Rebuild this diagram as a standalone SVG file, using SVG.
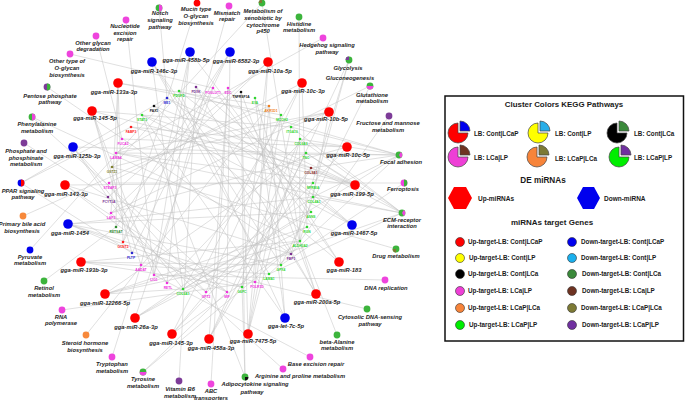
<svg xmlns="http://www.w3.org/2000/svg" width="685" height="400" viewBox="0 0 685 400">
<style>
.e line{stroke:#c0c0c0;stroke-width:0.5}
.t{font-family:"Liberation Sans",Arial,sans-serif;font-weight:bold;font-style:italic;font-size:5.8px;fill:#1e1e1e;text-anchor:middle}
.gn text{font-family:"Liberation Sans",Arial,sans-serif;font-weight:bold;font-size:3.3px;text-anchor:middle}
.lt{font-family:"Liberation Sans",Arial,sans-serif;font-weight:bold;fill:#1a1a1a}
.R{fill:#ff0000}.B{fill:#0000ee}.P{fill:#ee44dd}.G{fill:#3cb43c}.V{fill:#7d3c98}.O{fill:#f7893b}.K{fill:#111}.OL{fill:#7d7a35}
.cLG{fill:#2ed62e}.cDG{fill:#2e8b2e}.cV{fill:#7a2f90}.cP{fill:#ee33dd}.cK{fill:#111}.cO{fill:#f08020}.cBR{fill:#8b2a2a}.cB{fill:#2a2ad0}.cR{fill:#ff2020}.cOL{fill:#808030}
.pie{stroke:#444;stroke-width:0.7}
.lc{stroke:#333;stroke-width:0.6}
</style>
<rect width="685" height="400" fill="#ffffff"/>
<g id="connectors" class="e">
<line x1="152" y1="62" x2="269" y2="274"/><line x1="152" y1="62" x2="281" y2="265"/><line x1="152" y1="62" x2="183" y2="289"/><line x1="152" y1="62" x2="291" y2="254"/>
<line x1="190" y1="52" x2="167" y2="283"/><line x1="190" y1="52" x2="154" y2="275"/><line x1="190" y1="52" x2="311" y2="212"/><line x1="190" y1="52" x2="141" y2="265"/>
<line x1="230" y1="52" x2="132" y2="253"/><line x1="230" y1="52" x2="123" y2="242"/><line x1="230" y1="52" x2="116" y2="227"/><line x1="230" y1="52" x2="227" y2="292"/>
<line x1="268" y1="62" x2="111" y2="213"/><line x1="268" y1="62" x2="242" y2="287"/><line x1="268" y1="62" x2="255" y2="282"/><line x1="268" y1="62" x2="108" y2="197"/>
<line x1="302" y1="83" x2="109" y2="183"/><line x1="302" y1="83" x2="206" y2="292"/><line x1="302" y1="83" x2="183" y2="289"/><line x1="302" y1="83" x2="307" y2="227"/>
<line x1="329" y1="112" x2="112" y2="167"/><line x1="329" y1="112" x2="116" y2="153"/><line x1="329" y1="112" x2="167" y2="283"/><line x1="329" y1="112" x2="291" y2="127"/><line x1="329" y1="112" x2="313" y2="197"/>
<line x1="347" y1="147" x2="122" y2="139"/><line x1="347" y1="147" x2="111" y2="213"/><line x1="347" y1="147" x2="131" y2="127"/><line x1="347" y1="147" x2="313" y2="183"/>
<line x1="355" y1="185" x2="142" y2="115"/><line x1="355" y1="185" x2="154" y2="106"/><line x1="355" y1="185" x2="131" y2="127"/><line x1="355" y1="185" x2="116" y2="153"/><line x1="355" y1="185" x2="167" y2="98"/><line x1="355" y1="185" x2="306" y2="153"/>
<line x1="352" y1="225" x2="179" y2="91"/><line x1="352" y1="225" x2="196" y2="87"/><line x1="352" y1="225" x2="167" y2="98"/><line x1="352" y1="225" x2="142" y2="115"/>
<line x1="339" y1="262" x2="213" y2="88"/><line x1="339" y1="262" x2="228" y2="88"/><line x1="339" y1="262" x2="154" y2="106"/>
<line x1="316" y1="294" x2="241" y2="92"/><line x1="316" y1="294" x2="255" y2="98"/><line x1="316" y1="294" x2="196" y2="87"/><line x1="316" y1="294" x2="291" y2="254"/>
<line x1="285" y1="318" x2="269" y2="106"/><line x1="285" y1="318" x2="255" y2="98"/><line x1="285" y1="318" x2="179" y2="91"/><line x1="285" y1="318" x2="142" y2="115"/>
<line x1="248" y1="334" x2="281" y2="115"/><line x1="248" y1="334" x2="291" y2="127"/><line x1="248" y1="334" x2="300" y2="139"/><line x1="248" y1="334" x2="241" y2="92"/><line x1="248" y1="334" x2="269" y2="106"/>
<line x1="209" y1="339" x2="300" y2="139"/><line x1="209" y1="339" x2="306" y2="153"/><line x1="209" y1="339" x2="311" y2="168"/><line x1="209" y1="339" x2="228" y2="88"/>
<line x1="172" y1="334" x2="311" y2="168"/><line x1="172" y1="334" x2="313" y2="183"/><line x1="172" y1="334" x2="281" y2="115"/><line x1="172" y1="334" x2="300" y2="241"/>
<line x1="135" y1="318" x2="313" y2="197"/><line x1="135" y1="318" x2="311" y2="212"/><line x1="135" y1="318" x2="307" y2="227"/><line x1="135" y1="318" x2="213" y2="88"/>
<line x1="105" y1="294" x2="307" y2="227"/><line x1="105" y1="294" x2="300" y2="241"/><line x1="105" y1="294" x2="291" y2="254"/><line x1="105" y1="294" x2="306" y2="153"/><line x1="105" y1="294" x2="183" y2="289"/>
<line x1="81" y1="262" x2="300" y2="241"/><line x1="81" y1="262" x2="281" y2="265"/><line x1="81" y1="262" x2="269" y2="274"/><line x1="81" y1="262" x2="242" y2="287"/>
<line x1="68" y1="224" x2="255" y2="282"/><line x1="68" y1="224" x2="242" y2="287"/><line x1="68" y1="224" x2="227" y2="292"/><line x1="68" y1="224" x2="281" y2="265"/><line x1="68" y1="224" x2="311" y2="212"/><line x1="68" y1="224" x2="313" y2="197"/>
<line x1="65" y1="185" x2="227" y2="292"/><line x1="65" y1="185" x2="206" y2="292"/><line x1="65" y1="185" x2="291" y2="254"/><line x1="65" y1="185" x2="313" y2="183"/>
<line x1="73" y1="147" x2="206" y2="292"/><line x1="73" y1="147" x2="183" y2="289"/><line x1="73" y1="147" x2="167" y2="283"/><line x1="73" y1="147" x2="306" y2="153"/>
<line x1="92" y1="111" x2="154" y2="275"/><line x1="92" y1="111" x2="141" y2="265"/><line x1="92" y1="111" x2="132" y2="253"/><line x1="92" y1="111" x2="311" y2="168"/><line x1="92" y1="111" x2="291" y2="127"/>
<line x1="118" y1="83" x2="123" y2="242"/><line x1="118" y1="83" x2="116" y2="227"/><line x1="118" y1="83" x2="111" y2="213"/><line x1="118" y1="83" x2="269" y2="106"/><line x1="118" y1="83" x2="281" y2="115"/>
<line x1="159" y1="8" x2="167" y2="98"/>
<line x1="197" y1="3" x2="123" y2="242"/>
<line x1="126" y1="20" x2="154" y2="275"/>
<line x1="96" y1="36" x2="122" y2="139"/>
<line x1="70" y1="54" x2="213" y2="88"/>
<line x1="47" y1="87" x2="291" y2="254"/>
<line x1="32" y1="117" x2="227" y2="292"/><line x1="32" y1="117" x2="300" y2="241"/>
<line x1="24" y1="143" x2="108" y2="197"/>
<line x1="21" y1="183" x2="132" y2="253"/><line x1="21" y1="183" x2="131" y2="127"/><line x1="21" y1="183" x2="167" y2="98"/>
<line x1="23" y1="216" x2="269" y2="106"/>
<line x1="30" y1="250" x2="167" y2="98"/>
<line x1="44" y1="281" x2="116" y2="227"/>
<line x1="62" y1="310" x2="255" y2="282"/>
<line x1="86" y1="335" x2="269" y2="106"/>
<line x1="112" y1="357" x2="141" y2="265"/>
<line x1="143" y1="372" x2="227" y2="292"/><line x1="143" y1="372" x2="300" y2="241"/>
<line x1="179" y1="381" x2="196" y2="87"/>
<line x1="211" y1="384" x2="228" y2="88"/>
<line x1="245" y1="377" x2="241" y2="92"/><line x1="245" y1="377" x2="142" y2="115"/><line x1="245" y1="377" x2="242" y2="287"/>
<line x1="283" y1="369" x2="111" y2="213"/>
<line x1="310" y1="357" x2="154" y2="275"/>
<line x1="337" y1="335" x2="300" y2="241"/>
<line x1="367" y1="309" x2="255" y2="282"/>
<line x1="385" y1="280" x2="154" y2="275"/>
<line x1="396" y1="249" x2="112" y2="167"/>
<line x1="402" y1="213" x2="300" y2="139"/><line x1="402" y1="213" x2="313" y2="197"/><line x1="402" y1="213" x2="291" y2="127"/><line x1="402" y1="213" x2="306" y2="153"/><line x1="402" y1="213" x2="116" y2="153"/><line x1="402" y1="213" x2="269" y2="274"/><line x1="402" y1="213" x2="183" y2="289"/><line x1="402" y1="213" x2="311" y2="168"/>
<line x1="404" y1="183" x2="109" y2="183"/><line x1="404" y1="183" x2="281" y2="265"/>
<line x1="399" y1="155" x2="179" y2="91"/><line x1="399" y1="155" x2="300" y2="139"/><line x1="399" y1="155" x2="291" y2="127"/><line x1="399" y1="155" x2="313" y2="197"/><line x1="399" y1="155" x2="306" y2="153"/><line x1="399" y1="155" x2="116" y2="153"/><line x1="399" y1="155" x2="269" y2="274"/><line x1="399" y1="155" x2="183" y2="289"/><line x1="399" y1="155" x2="311" y2="168"/>
<line x1="389" y1="116" x2="291" y2="254"/>
<line x1="370" y1="86" x2="281" y2="265"/><line x1="370" y1="86" x2="111" y2="213"/>
<line x1="349" y1="60" x2="291" y2="254"/><line x1="349" y1="60" x2="242" y2="287"/><line x1="349" y1="60" x2="300" y2="241"/>
<line x1="323" y1="38" x2="116" y2="153"/>
<line x1="299" y1="17" x2="300" y2="241"/>
<line x1="262" y1="3" x2="112" y2="167"/><line x1="262" y1="3" x2="300" y2="241"/>
<line x1="229" y1="6" x2="154" y2="275"/>
</g>

<g id="genes" class="gn">
<g id="g-PDGFD" class="cLG"><circle cx="179" cy="91" r="1.3"/><text x="179" y="96.5">PDGFD</text></g>
<g id="g-PDXK" class="cV"><circle cx="196" cy="87" r="1.3"/><text x="196" y="92.5">PDXK</text></g>
<g id="g-POGLUT1" class="cP"><circle cx="213" cy="88" r="1.3"/><text x="213" y="93.5">POGLUT1</text></g>
<g id="g-EDC" class="cP"><circle cx="228" cy="88" r="1.3"/><text x="228" y="93.5">EDC</text></g>
<g id="g-TNFRSF1A" class="cK"><circle cx="241" cy="92" r="1.3"/><text x="241" y="97.5">TNFRSF1A</text></g>
<g id="g-EYA" class="cLG"><circle cx="255" cy="98" r="1.3"/><text x="255" y="103.5">EYA</text></g>
<g id="g-AKR1D1" class="cO"><circle cx="269" cy="106" r="1.3"/><text x="271" y="111.5">AKR1D1</text></g>
<g id="g-MCOH2" class="cLG"><circle cx="281" cy="115" r="1.3"/><text x="282" y="120.5">MCOH2</text></g>
<g id="g-ITGA10" class="cLG"><circle cx="291" cy="127" r="1.3"/><text x="292" y="132.5">ITGA10</text></g>
<g id="g-COL6A3" class="cLG"><circle cx="300" cy="139" r="1.3"/><text x="301" y="144.5">COL6A3</text></g>
<g id="g-TNC" class="cLG"><circle cx="306" cy="153" r="1.3"/><text x="306" y="158.5">TNC</text></g>
<g id="g-COL9A1" class="cBR"><circle cx="311" cy="168" r="1.3"/><text x="311" y="173.5">COL9A1</text></g>
<g id="g-NPRBIA" class="cLG"><circle cx="313" cy="183" r="1.3"/><text x="313" y="188.5">NPRBIA</text></g>
<g id="g-COL4A1" class="cLG"><circle cx="313" cy="197" r="1.3"/><text x="314" y="202.5">COL4A1</text></g>
<g id="g-ASNS" class="cLG"><circle cx="311" cy="212" r="1.3"/><text x="311" y="217.5">ASNS</text></g>
<g id="g-RGN" class="cLG"><circle cx="307" cy="227" r="1.3"/><text x="307" y="232.5">RGN</text></g>
<g id="g-ALDH3A2" class="cLG"><circle cx="300" cy="241" r="1.3"/><text x="300" y="246.5">ALDH3A2</text></g>
<g id="g-FBP1" class="cV"><circle cx="291" cy="254" r="1.3"/><text x="291" y="259.5">FBP1</text></g>
<g id="g-GPX4" class="cLG"><circle cx="281" cy="265" r="1.3"/><text x="281" y="270.5">GPX4</text></g>
<g id="g-LAMA1" class="cLG"><circle cx="269" cy="274" r="1.3"/><text x="269" y="279.5">LAMA1</text></g>
<g id="g-POLR1D" class="cP"><circle cx="255" cy="282" r="1.3"/><text x="257" y="287.5">POLR1D</text></g>
<g id="g-G6PC" class="cLG"><circle cx="242" cy="287" r="1.3"/><text x="242" y="292.5">G6PC</text></g>
<g id="g-MIF" class="cP"><circle cx="227" cy="292" r="1.3"/><text x="227" y="297.5">MIF</text></g>
<g id="g-GPT2" class="cP"><circle cx="206" cy="292" r="1.3"/><text x="206" y="297.5">GPT2</text></g>
<g id="g-COL6A1" class="cLG"><circle cx="183" cy="289" r="1.3"/><text x="183" y="294.5">COL6A1</text></g>
<g id="g-RETL" class="cP"><circle cx="167" cy="283" r="1.3"/><text x="168" y="288.5">RETL</text></g>
<g id="g-LIG1" class="cP"><circle cx="154" cy="275" r="1.3"/><text x="154" y="280.5">LIG1</text></g>
<g id="g-AADAT" class="cP"><circle cx="141" cy="265" r="1.3"/><text x="141" y="270.5">AADAT</text></g>
<g id="g-PLTP" class="cB"><circle cx="132" cy="253" r="1.3"/><text x="131" y="258.5">PLTP</text></g>
<g id="g-GCNT2" class="cR"><circle cx="123" cy="242" r="1.3"/><text x="123" y="247.5">GCNT2</text></g>
<g id="g-RETSAT" class="cDG"><circle cx="116" cy="227" r="1.3"/><text x="116" y="232.5">RETSAT</text></g>
<g id="g-LAP3" class="cP"><circle cx="111" cy="213" r="1.3"/><text x="111" y="218.5">LAP3</text></g>
<g id="g-PCYT1A" class="cV"><circle cx="108" cy="197" r="1.3"/><text x="109" y="202.5">PCYT1A</text></g>
<g id="g-STEAP3" class="cP"><circle cx="109" cy="183" r="1.3"/><text x="110" y="188.5">STEAP3</text></g>
<g id="g-GSTZ1" class="cOL"><circle cx="112" cy="167" r="1.3"/><text x="112" y="172.5">GSTZ1</text></g>
<g id="g-LAMA4" class="cP"><circle cx="116" cy="153" r="1.3"/><text x="116" y="158.5">LAMA4</text></g>
<g id="g-FUCA2" class="cP"><circle cx="122" cy="139" r="1.3"/><text x="123" y="144.5">FUCA2</text></g>
<g id="g-FABP3" class="cR"><circle cx="131" cy="127" r="1.3"/><text x="131" y="132.5">FABP3</text></g>
<g id="g-STAT3" class="cLG"><circle cx="142" cy="115" r="1.3"/><text x="142" y="120.5">STAT3</text></g>
<g id="g-PAX1" class="cK"><circle cx="154" cy="106" r="1.3"/><text x="154" y="111.5">PAX1</text></g>
<g id="g-ME1" class="cB"><circle cx="167" cy="98" r="1.3"/><text x="167" y="103.5">ME1</text></g>
</g>

<g id="mirnas">
<g id="m-146c-3p"><circle class="B" cx="152" cy="62" r="4.8"/><text class="t" x="154" y="73">gga-miR-146c-3p</text></g>
<g id="m-458b-5p"><circle class="B" cx="190" cy="52" r="4.8"/><text class="t" x="186" y="62">gga-miR-458b-5p</text></g>
<g id="m-6582-3p"><circle class="B" cx="230" cy="52" r="4.8"/><text class="t" x="236" y="63">gga-miR-6582-3p</text></g>
<g id="m-10a-5p"><circle class="R" cx="268" cy="62" r="4.8"/><text class="t" x="270" y="73">gga-miR-10a-5p</text></g>
<g id="m-10c-3p"><circle class="R" cx="302" cy="83" r="4.8"/><text class="t" x="303" y="93">gga-miR-10c-3p</text></g>
<g id="m-10b-5p"><circle class="R" cx="329" cy="112" r="4.8"/><text class="t" x="326" y="121">gga-miR-10b-5p</text></g>
<g id="m-10c-5p"><circle class="R" cx="347" cy="147" r="4.8"/><text class="t" x="348" y="157">gga-miR-10c-5p</text></g>
<g id="m-199-5p"><circle class="R" cx="355" cy="185" r="4.8"/><text class="t" x="352" y="196">gga-miR-199-5p</text></g>
<g id="m-1467-5p"><circle class="B" cx="352" cy="225" r="4.8"/><text class="t" x="354" y="235">gga-miR-1467-5p</text></g>
<g id="m-183"><circle class="R" cx="339" cy="262" r="4.8"/><text class="t" x="344" y="272">gga-miR-183</text></g>
<g id="m-200a-5p"><circle class="R" cx="316" cy="294" r="4.8"/><text class="t" x="317" y="304">gga-miR-200a-5p</text></g>
<g id="m-let-7c-5p"><circle class="B" cx="285" cy="318" r="4.8"/><text class="t" x="286" y="328">gga-let-7c-5p</text></g>
<g id="m-7475-5p"><circle class="R" cx="248" cy="334" r="4.8"/><text class="t" x="253" y="343">gga-miR-7475-5p</text></g>
<g id="m-458a-3p"><circle class="R" cx="209" cy="339" r="4.8"/><text class="t" x="211" y="350">gga-miR-458a-3p</text></g>
<g id="m-145-3p"><circle class="R" cx="172" cy="334" r="4.8"/><text class="t" x="171" y="345">gga-miR-145-3p</text></g>
<g id="m-26a-3p"><circle class="R" cx="135" cy="318" r="4.8"/><text class="t" x="136" y="329">gga-miR-26a-3p</text></g>
<g id="m-12266-5p"><circle class="R" cx="105" cy="294" r="4.8"/><text class="t" x="105" y="305">gga-miR-12266-5p</text></g>
<g id="m-193b-3p"><circle class="R" cx="81" cy="262" r="4.8"/><text class="t" x="84" y="272">gga-miR-193b-3p</text></g>
<g id="m-1454"><circle class="B" cx="68" cy="224" r="4.8"/><text class="t" x="70" y="235">gga-miR-1454</text></g>
<g id="m-143-3p"><circle class="R" cx="65" cy="185" r="4.8"/><text class="t" x="66" y="196">gga-miR-143-3p</text></g>
<g id="m-125b-3p"><circle class="B" cx="73" cy="147" r="4.8"/><text class="t" x="77" y="158">gga-miR-125b-3p</text></g>
<g id="m-145-5p"><circle class="R" cx="92" cy="111" r="4.8"/><text class="t" x="95" y="120">gga-miR-145-5p</text></g>
<g id="m-133a-3p"><circle class="R" cx="118" cy="83" r="4.8"/><text class="t" x="114" y="94">gga-miR-133a-3p</text></g>
</g>

<g id="pathways">
<g id="p-notch"><circle class="G" cx="159" cy="8" r="3.4"/><path class="P" d="M159,4.6 A3.4,3.4 0 0 1 159,11.4 Z"/><text class="t" x="160" y="15">Notch</text><text class="t" x="160" y="22">signaling</text><text class="t" x="160" y="28.5">pathway</text></g>
<g id="p-mucin"><circle class="R" cx="197" cy="3" r="3.4"/><text class="t" x="196" y="11">Mucin type</text><text class="t" x="196" y="18">O-glycan</text><text class="t" x="196" y="24.5">biosynthesis</text></g>
<g id="p-nucleotide"><circle class="P" cx="126" cy="20" r="3.4"/><text class="t" x="125" y="28">Nucleotide</text><text class="t" x="125" y="35">excision</text><text class="t" x="125" y="41">repair</text></g>
<g id="p-otherglycan"><circle class="P" cx="96" cy="36" r="3.4"/><text class="t" x="93" y="45">Other glycan</text><text class="t" x="93" y="51">degradation</text></g>
<g id="p-othertype"><circle class="P" cx="70" cy="54" r="3.4"/><text class="t" x="67" y="63">Other type of</text><text class="t" x="67" y="70">O-glycan</text><text class="t" x="67" y="77">biosynthesis</text></g>
<g id="p-pentose"><circle class="V" cx="47" cy="87" r="3.4"/><path class="G" d="M47,83.6 A3.4,3.4 0 0 1 47,90.4 Z"/><text class="t" x="50" y="98">Pentose phosphate</text><text class="t" x="50" y="104">pathway</text></g>
<g id="p-phenylalanine"><circle class="G" cx="32" cy="117" r="3.4"/><path class="P" d="M32,113.6 A3.4,3.4 0 0 1 32,120.4 Z"/><text class="t" x="37" y="126">Phenylalanine</text><text class="t" x="37" y="133">metabolism</text></g>
<g id="p-phosphate"><circle class="V" cx="24" cy="143" r="3.4"/><text class="t" x="26" y="153">Phosphate and</text><text class="t" x="26" y="160">phosphinate</text><text class="t" x="26" y="166">metabolism</text></g>
<g id="p-ppar"><circle class="B" cx="21" cy="183" r="3.4"/><path class="R" d="M21,179.6 A3.4,3.4 0 0 1 21,186.4 Z"/><text class="t" x="23" y="193">PPAR signaling</text><text class="t" x="23" y="199">pathway</text></g>
<g id="p-bile"><circle class="O" cx="23" cy="216" r="3.4"/><text class="t" x="22" y="226">Primary bile acid</text><text class="t" x="22" y="233">biosynthesis</text></g>
<g id="p-pyruvate"><circle class="B" cx="30" cy="250" r="3.4"/><text class="t" x="30" y="259">Pyruvate</text><text class="t" x="30" y="265">metabolism</text></g>
<g id="p-retinol"><circle class="G" cx="44" cy="281" r="3.4"/><text class="t" x="44" y="290">Retinol</text><text class="t" x="44" y="297">metabolism</text></g>
<g id="p-rnapol"><circle class="P" cx="62" cy="310" r="3.4"/><text class="t" x="61" y="319">RNA</text><text class="t" x="61" y="325">polymerase</text></g>
<g id="p-steroid"><circle class="O" cx="86" cy="335" r="3.4"/><text class="t" x="85" y="345">Steroid hormone</text><text class="t" x="85" y="352">biosynthesis</text></g>
<g id="p-tryptophan"><circle class="P" cx="112" cy="357" r="3.4"/><text class="t" x="112" y="366">Tryptophan</text><text class="t" x="112" y="373">metabolism</text></g>
<g id="p-tyrosine"><circle class="G" cx="143" cy="372" r="3.4"/><path class="P" d="M139.6,372 A3.4,3.4 0 0 0 146.4,372 Z"/><text class="t" x="143" y="381">Tyrosine</text><text class="t" x="143" y="388">metabolism</text></g>
<g id="p-vitb6"><circle class="V" cx="179" cy="381" r="3.4"/><text class="t" x="180" y="391">Vitamin B6</text><text class="t" x="180" y="398">metabolism</text></g>
<g id="p-abc"><circle class="P" cx="211" cy="384" r="3.4"/><text class="t" x="211" y="393">ABC</text><text class="t" x="211" y="399.5">transporters</text></g>
<g id="p-adipo"><circle class="G" cx="245" cy="377" r="3.4"/><path class="K" d="M245,377 L248.4,377 A3.4,3.4 0 0 1 245,380.4 Z"/><text class="t" x="255" y="386">Adipocytokine signaling</text><text class="t" x="252" y="394">pathway</text></g>
<g id="p-arginine"><circle class="P" cx="283" cy="369" r="3.4"/><text class="t" x="300" y="378">Arginine and proline metabolism</text></g>
<g id="p-ber"><circle class="P" cx="310" cy="357" r="3.4"/><text class="t" x="316" y="366">Base excision repair</text></g>
<g id="p-betaala"><circle class="G" cx="337" cy="335" r="3.4"/><text class="t" x="337" y="344">beta-Alanine</text><text class="t" x="337" y="350">metabolism</text></g>
<g id="p-cytosolic"><circle class="G" cx="367" cy="309" r="3.4"/><text class="t" x="370" y="319">Cytosolic DNA-sensing</text><text class="t" x="370" y="326">pathway</text></g>
<g id="p-dnarep"><circle class="P" cx="385" cy="280" r="3.4"/><text class="t" x="386" y="290">DNA replication</text></g>
<g id="p-drug"><circle class="G" cx="396" cy="249" r="3.4"/><path class="OL" d="M396,249 L396,252.4 A3.4,3.4 0 0 1 392.6,249 Z"/><text class="t" x="396" y="258">Drug metabolism</text></g>
<g id="p-ecm"><circle class="G" cx="402" cy="213" r="3.4"/><path class="P" d="M402,213 L403.7,210.06 A3.4,3.4 0 0 1 403.7,215.94 Z"/><text class="t" x="402" y="222">ECM-receptor</text><text class="t" x="402" y="228">interaction</text></g>
<g id="p-ferroptosis"><circle class="P" cx="404" cy="183" r="3.4"/><path class="G" d="M404,179.6 A3.4,3.4 0 0 1 404,186.4 Z"/><text class="t" x="403" y="191">Ferroptosis</text></g>
<g id="p-focal"><circle class="G" cx="399" cy="155" r="3.4"/><path class="P" d="M399,155 L400.7,152.06 A3.4,3.4 0 0 1 400.7,157.94 Z"/><text class="t" x="401" y="164">Focal adhesion</text></g>
<g id="p-fructose"><circle class="V" cx="389" cy="116" r="3.4"/><text class="t" x="388" y="125">Fructose and mannose</text><text class="t" x="388" y="132">metabolism</text></g>
<g id="p-glutathione"><circle class="G" cx="370" cy="86" r="3.4"/><path class="P" d="M366.6,86 A3.4,3.4 0 0 0 373.4,86 Z"/><text class="t" x="372" y="97">Glutathione</text><text class="t" x="372" y="103">metabolism</text></g>
<g id="p-glycolysis"><circle class="G" cx="349" cy="60" r="3.4"/><path class="V" d="M349,60 L345.6,60 A3.4,3.4 0 0 1 349,56.6 Z"/><text class="t" x="348" y="70">Glycolysis</text><text class="t" x="350" y="80">Gluconeogenesis</text></g>
<g id="p-hedgehog"><circle class="P" cx="323" cy="38" r="3.4"/><text class="t" x="327" y="47">Hedgehog signaling</text><text class="t" x="327" y="54">pathway</text></g>
<g id="p-histidine"><circle class="G" cx="299" cy="17" r="3.4"/><text class="t" x="299" y="26">Histidine</text><text class="t" x="299" y="32">metabolism</text></g>
<g id="p-xenobiotic"><circle class="G" cx="262" cy="3" r="3.4"/><path class="OL" d="M262,3 L258.6,3 A3.4,3.4 0 0 1 262,-0.4 Z"/><text class="t" x="263" y="13">Metabolism of</text><text class="t" x="263" y="19.5">xenobiotic by</text><text class="t" x="263" y="26.5">cytochrome</text><text class="t" x="263" y="33">p450</text></g>
<g id="p-mismatch"><circle class="P" cx="229" cy="6" r="3.4"/><text class="t" x="227" y="15">Mismatch</text><text class="t" x="227" y="21">repair</text></g>
</g>

<g id="legend">
<rect x="445" y="96" width="238.5" height="245" fill="#ffffff" stroke="#111" stroke-width="1.5"/>
<text class="lt" x="564" y="107" font-size="7.9" text-anchor="middle">Cluster Colors KEGG Pathways</text>
<g class="pie">
<path fill="#ff0000" d="M458,133 L468,133 A10,10 0 1 1 458,123 Z"/><path fill="#0000ee" d="M460,131 L460,121 A10,10 0 0 1 470,131 Z"/>
<path fill="#ffff00" d="M538,133 L548,133 A10,10 0 1 1 538,123 Z"/><path fill="#29aee8" d="M540,131 L540,121 A10,10 0 0 1 550,131 Z"/>
<path fill="#000000" d="M617,133 L627,133 A10,10 0 1 1 617,123 Z"/><path fill="#3b8a3b" d="M619,131 L619,121 A10,10 0 0 1 629,131 Z"/>
<path fill="#ee3fd6" d="M458,157 L468,157 A10,10 0 1 1 458,147 Z"/><path fill="#6e3322" d="M460,155 L460,145 A10,10 0 0 1 470,155 Z"/>
<path fill="#f7843a" d="M537,157 L547,157 A10,10 0 1 1 537,147 Z"/><path fill="#7d7a35" d="M539,155 L539,145 A10,10 0 0 1 549,155 Z"/>
<path fill="#00ee00" d="M619,157 L629,157 A10,10 0 1 1 619,147 Z"/><path fill="#7030a0" d="M621,155 L621,145 A10,10 0 0 1 631,155 Z"/>
</g>
<g class="lt" font-size="6.3">
<text x="474" y="136">LB: Cont|LCaP</text><text x="555" y="136">LB: Cont|LP</text><text x="634" y="136">LB: Cont|LCa</text>
<text x="474" y="159.5">LB: LCa|LP</text><text x="555" y="161">LB: LCaP|LCa</text><text x="634" y="159.5">LB: LCaP|LP</text>
</g>
<text class="lt" x="543" y="183" font-size="8.2" text-anchor="middle">DE miRNAs</text>
<polygon points="448,198 454,187 466,187 472,198 466,209 454,209" fill="#ff0000"/>
<polygon points="577,198 583,187 594,187 600,198 594,209 583,209" fill="#0000ee"/>
<text class="lt" x="478" y="200.5" font-size="6.5">Up-miRNAs</text>
<text class="lt" x="604" y="200.5" font-size="6.5">Down-miRNA</text>
<text class="lt" x="552" y="225" font-size="8" text-anchor="middle">miRNAs target Genes</text>
<g class="lc">
<circle cx="460" cy="242" r="4.5" fill="#ff0000"/><circle cx="460" cy="258" r="4.5" fill="#ffff00"/><circle cx="460" cy="274" r="4.5" fill="#000000"/>
<circle cx="460" cy="291" r="4.5" fill="#ee3fd6"/><circle cx="460" cy="308" r="4.5" fill="#f7843a"/><circle cx="460" cy="325" r="4.5" fill="#00ee00"/>
<circle cx="572" cy="242" r="4.5" fill="#0000ee"/><circle cx="572" cy="258" r="4.5" fill="#1ab0ee"/><circle cx="572" cy="274" r="4.5" fill="#3b8a3b"/>
<circle cx="572" cy="291" r="4.5" fill="#6e3322"/><circle cx="572" cy="308" r="4.5" fill="#7d7a35"/><circle cx="572" cy="325" r="4.5" fill="#7030a0"/>
</g>
<g class="lt" font-size="6.3">
<text x="468" y="244.2">Up-target-LB: Cont|LCaP</text><text x="469" y="260.2">Up-target-LB: Cont|LP</text><text x="468" y="276.2">Up-target-LB: Cont|LCa</text>
<text x="468" y="293.2">Up-target-LB: LCa|LP</text><text x="468" y="310.2">Up-target-LB: LCaP|LCa</text><text x="469" y="327.2">Up-target-LB: LCaP|LP</text>
<text x="581" y="244.2">Down-target-LB: Cont|LCaP</text><text x="581" y="260.2">Down-target-LB: Cont|LP</text><text x="582" y="276.2">Down-target-LB: Cont|LCa</text>
<text x="582" y="293.2">Down-target-LB: LCa|LP</text><text x="581" y="310.2">Down-target-LB: LCaP|LCa</text><text x="582" y="327.2">Down-target-LB: LCaP|LP</text>
</g>
</g>
</svg>
